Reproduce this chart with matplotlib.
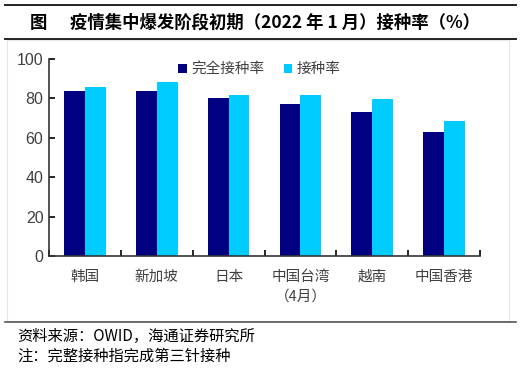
import matplotlib
matplotlib.use("Agg")
import matplotlib.pyplot as plt
import numpy as np
from matplotlib.lines import Line2D
from matplotlib.patches import Rectangle

plt.rcParams["font.family"] = ["Noto Sans CJK SC", "DejaVu Sans"]

categories = ["韩国", "新加坡", "日本", "中国台湾\n（4月）", "越南", "中国香港"]
full_rate = [83.9, 83.8, 80.4, 77.2, 73.3, 62.9]
any_rate = [85.8, 88.2, 81.6, 81.9, 79.7, 68.5]
series_names = ["完全接种率", "接种率"]
yticks = [0, 20, 40, 60, 80, 100]

DARK = "#000080"
LIGHT = "#00CCFF"
W, H = 529, 370

fig = plt.figure(figsize=(W / 100, H / 100), dpi=100, facecolor="white")

# frame lines
for y, lw, col in [(5, 1.4, "#222222"), (39, 1.4, "#222222"), (322, 1.2, "#555555")]:
    fig.add_artist(Line2D([5 / W, 516 / W], [1 - y / H, 1 - y / H], color=col, lw=lw))
fig.add_artist(Rectangle((7 / W, 1 - 321 / H), 502 / W, 281 / H, fill=False,
                         edgecolor="#e6e6e6", lw=0.8))

fig.text(30 / W, 1 - 23 / H, "图", fontsize=12.5, fontweight="bold", va="center")
fig.text(70 / W, 1 - 23 / H, "疫情集中爆发阶段初期（2022 年 1 月）接种率（%）",
         fontsize=12.5, fontweight="bold", va="center")

ax = fig.add_axes([49 / W, 1 - 256 / H, (480 - 49) / W, (256 - 59) / H])
x = np.arange(len(categories))
bw = 0.29
ax.bar(x - bw / 2, full_rate, bw, color=DARK, label=series_names[0])
ax.bar(x + bw / 2, any_rate, bw, color=LIGHT, label=series_names[1])

ax.set_xlim(-0.5, len(categories) - 0.5)
ax.set_ylim(0, 100)
ax.set_yticks(yticks)
ax.set_yticklabels([str(v) for v in yticks], fontsize=11.5, color="#404040",
                   family=["Liberation Sans", "DejaVu Sans"])
ax.set_xticks(np.arange(len(categories) + 1) - 0.5, minor=False)
ax.set_xticklabels([])
ax.set_xticks(x, minor=True)
ax.set_xticklabels(categories, minor=True, fontsize=10.5, color="#404040", linespacing=1.55)
ax.tick_params(axis="x", which="minor", length=0, pad=10)
ax.tick_params(axis="x", which="major", length=4, direction="in", width=1.2)
ax.tick_params(axis="y", length=4, direction="in", width=1.2, pad=4)
for s in ["top", "right"]:
    ax.spines[s].set_visible(False)
for s in ["left", "bottom"]:
    ax.spines[s].set_color("#333333")
    ax.spines[s].set_linewidth(1.2)

ax.legend(loc="upper left", bbox_to_anchor=(0.27, 1.05), ncol=2, frameon=False,
          fontsize=10.5, handlelength=0.6, handleheight=0.6, handletextpad=0.3,
          columnspacing=1.3, labelcolor="#404040")

fig.text(17 / W, 1 - 336 / H, "资料来源：OWID，海通证券研究所", fontsize=11, va="center")
fig.text(17 / W, 1 - 356 / H, "注：完整接种指完成第三针接种", fontsize=11, va="center")

fig.savefig("out.png", dpi=100, facecolor="white")
